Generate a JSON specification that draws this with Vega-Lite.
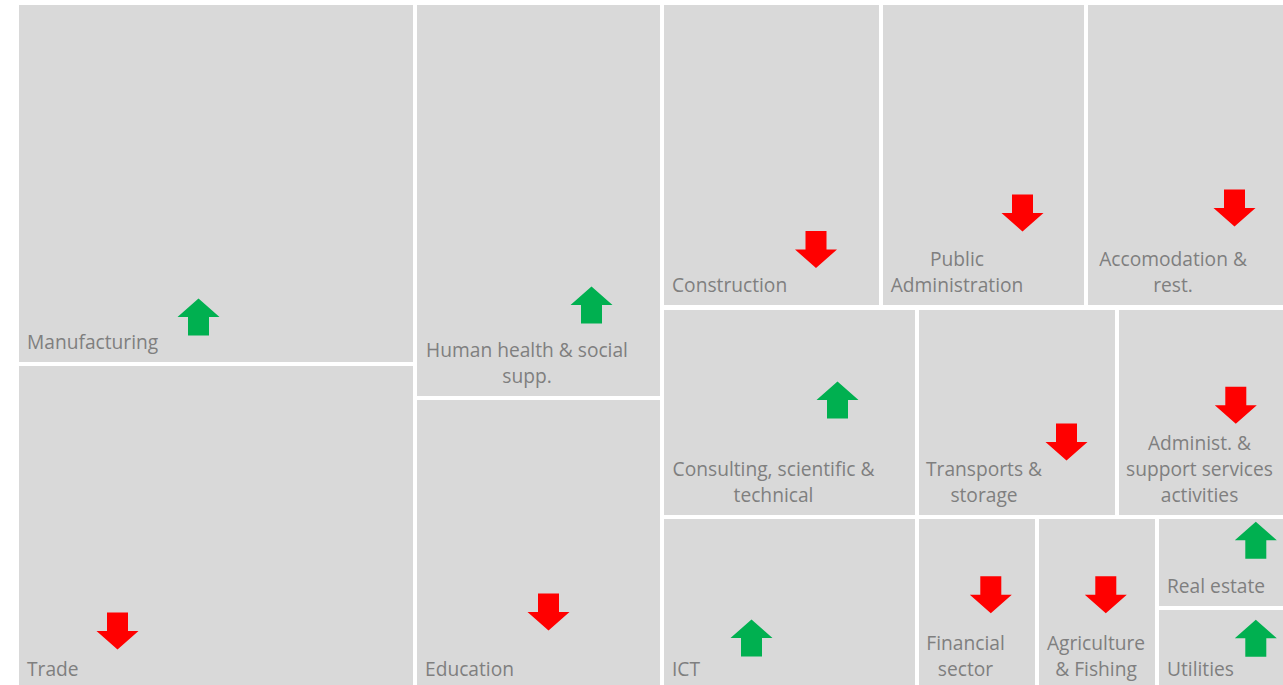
{
  "$schema": "https://vega.github.io/schema/vega-lite/v6.json",
  "width": 1264,
  "height": 680,
  "autosize": {"type": "none"},
  "padding": {"left": 19, "top": 5, "right": 0, "bottom": 0},
  "background": "white",
  "config": {"view": {"stroke": null}},
  "data": {
    "values": [
      {"sector": "Manufacturing", "label": "Manufacturing", "trend": "up", "x0": 0, "x1": 394, "y0": 0, "y1": 357, "ax": 179.5, "ay": 312},
      {"sector": "Trade", "label": "Trade", "trend": "down", "x0": 0, "x1": 394, "y0": 361, "y1": 684, "ax": 98.5, "ay": 626},
      {"sector": "Human health & social supp.", "label": ["Human health & social", "supp."], "trend": "up", "x0": 398, "x1": 641, "y0": 0, "y1": 391, "lx": 508, "ax": 572.5, "ay": 300},
      {"sector": "Education", "label": "Education", "trend": "down", "x0": 398, "x1": 641, "y0": 395, "y1": 684, "ax": 529.5, "ay": 607},
      {"sector": "Construction", "label": "Construction", "trend": "down", "x0": 645, "x1": 860, "y0": 0, "y1": 300, "ax": 797, "ay": 244.5},
      {"sector": "Public Administration", "label": ["Public", "Administration"], "trend": "down", "x0": 864, "x1": 1065, "y0": 0, "y1": 300, "lx": 938, "ax": 1003.5, "ay": 208},
      {"sector": "Accomodation & rest.", "label": ["Accomodation &", "rest."], "trend": "down", "x0": 1069, "x1": 1264, "y0": 0, "y1": 300, "lx": 1154, "ax": 1215.5, "ay": 203},
      {"sector": "Consulting, scientific & technical", "label": ["Consulting, scientific &", "technical"], "trend": "up", "x0": 645, "x1": 896, "y0": 305, "y1": 510, "lx": 754.5, "ax": 818.5, "ay": 395},
      {"sector": "Transports & storage", "label": ["Transports &", "storage"], "trend": "down", "x0": 900, "x1": 1096, "y0": 305, "y1": 510, "lx": 965, "ax": 1047.5, "ay": 437},
      {"sector": "Administ. & support services activities", "label": ["Administ. &", "support services", "activities"], "trend": "down", "x0": 1100, "x1": 1264, "y0": 305, "y1": 510, "lx": 1180.5, "ax": 1216.8, "ay": 400.3},
      {"sector": "ICT", "label": "ICT", "trend": "up", "x0": 645, "x1": 896, "y0": 514, "y1": 684, "ax": 732.5, "ay": 633},
      {"sector": "Financial sector", "label": ["Financial", "sector"], "trend": "down", "x0": 900, "x1": 1016, "y0": 514, "y1": 684, "lx": 946.5, "ax": 971.8, "ay": 589.7},
      {"sector": "Agriculture & Fishing", "label": ["Agriculture", "& Fishing"], "trend": "down", "x0": 1020, "x1": 1136, "y0": 514, "y1": 684, "lx": 1077, "ax": 1086.8, "ay": 589.7},
      {"sector": "Real estate", "label": "Real estate", "trend": "up", "x0": 1140, "x1": 1264, "y0": 514, "y1": 601, "ax": 1236.8, "ay": 535.2},
      {"sector": "Utilities", "label": "Utilities", "trend": "up", "x0": 1140, "x1": 1264, "y0": 605, "y1": 684, "ax": 1236.8, "ay": 633.3}
    ]
  },
  "layer": [
    {
      "mark": {"type": "rect", "color": "#d9d9d9", "opacity": 1},
      "encoding": {
        "x": {"field": "x0", "type": "quantitative", "scale": {"domain": [0, 1264], "nice": false, "zero": false}, "axis": null},
        "x2": {"field": "x1"},
        "y": {"field": "y0", "type": "quantitative", "scale": {"domain": [0, 680], "nice": false, "zero": false, "reverse": true}, "axis": null},
        "y2": {"field": "y1"}
      }
    },
    {
      "transform": [{"filter": "!isArray(datum.label)"}],
      "mark": {"type": "text", "align": "left", "baseline": "bottom", "dx": 8, "dy": -9, "font": "Open Sans", "fontSize": 19.2, "lineHeight": 26, "color": "#7f7f7f"},
      "encoding": {
        "x": {"field": "x0", "type": "quantitative"},
        "y": {"field": "y1", "type": "quantitative"},
        "text": {"field": "label"}
      }
    },
    {
      "transform": [{"filter": "isArray(datum.label) && length(datum.label) == 2"}],
      "mark": {"type": "text", "align": "center", "baseline": "bottom", "dy": -35, "font": "Open Sans", "fontSize": 19.2, "lineHeight": 26, "color": "#7f7f7f"},
      "encoding": {
        "x": {"field": "lx", "type": "quantitative"},
        "y": {"field": "y1", "type": "quantitative"},
        "text": {"field": "label"}
      }
    },
    {
      "transform": [{"filter": "isArray(datum.label) && length(datum.label) == 3"}],
      "mark": {"type": "text", "align": "center", "baseline": "bottom", "dy": -61, "font": "Open Sans", "fontSize": 19.2, "lineHeight": 26, "color": "#7f7f7f"},
      "encoding": {
        "x": {"field": "lx", "type": "quantitative"},
        "y": {"field": "y1", "type": "quantitative"},
        "text": {"field": "label"}
      }
    },
    {
      "mark": {"type": "point", "filled": true, "opacity": 1, "strokeWidth": 0, "size": 1764},
      "encoding": {
        "x": {"field": "ax", "type": "quantitative"},
        "y": {"field": "ay", "type": "quantitative"},
        "shape": {"field": "trend", "type": "nominal", "legend": null, "scale": {"domain": ["up", "down"], "range": ["M0,-0.88L1,0L0.5,0L0.5,0.88L-0.5,0.88L-0.5,0L-1,0Z", "M0,0.88L1,0L0.5,0L0.5,-0.88L-0.5,-0.88L-0.5,0L-1,0Z"]}},
        "color": {"field": "trend", "type": "nominal", "legend": null, "scale": {"domain": ["up", "down"], "range": ["#00b050", "#ff0000"]}}
      }
    }
  ]
}
